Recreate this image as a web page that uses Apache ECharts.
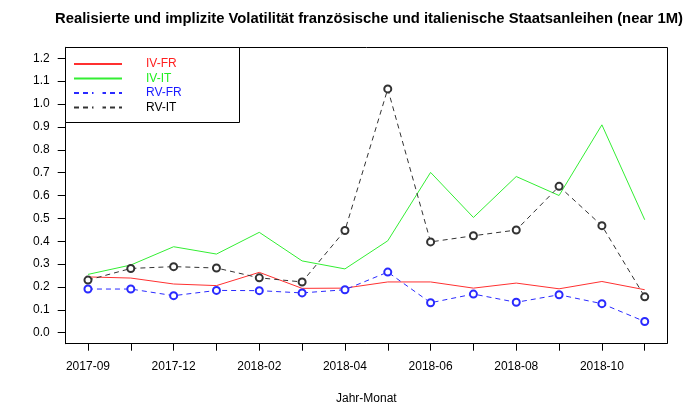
<!DOCTYPE html>
<html>
<head>
<meta charset="utf-8">
<script src="https://cdn.jsdelivr.net/npm/echarts@6/dist/echarts.min.js"></script>
<style>
html,body{margin:0;padding:0;background:#fff;}
#c{width:697px;height:405px;}
</style>
</head>
<body>
<div id="c"></div>
<script>
const months = ['2017-09','2017-10','2017-12','2018-01','2018-02','2018-03','2018-04','2018-05','2018-06','2018-07','2018-08','2018-09','2018-10','2018-11'];
const ivFR = [0.244,0.239,0.213,0.206,0.264,0.194,0.195,0.222,0.222,0.195,0.217,0.192,0.224,0.188];
const ivIT = [0.255,0.296,0.376,0.344,0.439,0.314,0.279,0.402,0.701,0.504,0.683,0.600,0.909,0.494];
const rvFR = [0.191,0.191,0.162,0.185,0.184,0.174,0.188,0.265,0.131,0.169,0.133,0.166,0.127,0.049];
const rvIT = [0.230,0.281,0.289,0.283,0.240,0.222,0.447,1.066,0.397,0.424,0.449,0.640,0.468,0.157];
const seriesNames = ['IV-FR','IV-IT','RV-FR','RV-IT'];
const yTicks = [0,0.1,0.2,0.3,0.4,0.5,0.6,0.7,0.8,0.9,1.0,1.1,1.2];
const xLabelIdx = [0,2,4,6,8,10,12];
const titleText = 'Realisierte und implizite Volatilität französische und italienische Staatsanleihen (near 1M)';
const xName = 'Jahr-Monat';
const yName = 'Annualisiert';

const FONT = 'Liberation Sans, Arial, Helvetica, sans-serif';
const chart = echarts.init(document.getElementById('c'), null, {renderer:'canvas'});
const colors = ['#ff3030','#33ee33','#2a2aff','#333333'];
const textColors = ['#ff2020','#22ee22','#1a1aff','#000000'];
const xTicks = months.map((m,i)=>i);

function mk(name, vals, i, dashed) {
  return {
    name, type:'line', data: vals.map((v,k)=>[k, v]),
    symbol: dashed ? 'emptyCircle' : 'none',
    symbolSize: 7,
    showSymbol: dashed,
    lineStyle:{color:colors[i], width:1, type: dashed ? [5,4] : 'solid'},
    itemStyle:{color:colors[i], borderColor:colors[i], borderWidth:0.75},
    emphasis:{disabled:true},
    animation:false,
    z: 3
  };
}

chart.setOption({
  animation:false,
  textStyle:{fontFamily:FONT},
  grid:{left:65.7, right:697-667, top:47.3, bottom:405-343.7, containLabel:false, outerBoundsMode:'none'},
  legend:{
    orient:'vertical', left:68, top:53, itemWidth:48, itemHeight:9, itemGap:2.5,
    selectedMode:false, z:10,
    textStyle:{fontFamily:FONT, fontSize:12, padding:[0,0,0,19]},
    data: seriesNames.map((n,i)=>({
      name:n,
      textStyle:{color:textColors[i]},
      itemStyle: i < 2 ? {opacity:0} : {color:'#fff', borderColor:colors[i], borderWidth:0.75}
    }))
  },
  xAxis:{
    type:'value', min:-0.52, max:13.52,
    axisLine:{show:true, onZero:false, lineStyle:{color:'#000', width:1}},
    axisTick:{show:true, customValues:xTicks, length:7, lineStyle:{color:'#000'}},
    axisLabel:{customValues:xLabelIdx, color:'#000', fontSize:12, margin:17, fontFamily:FONT,
               formatter:v=>months[Math.round(v)]},
    splitLine:{show:false},
    name:xName, nameLocation:'middle', nameGap:49,
    nameTextStyle:{color:'#000', fontSize:12, fontFamily:FONT}
  },
  yAxis:{
    type:'value', min:-0.048, max:1.248,
    axisLine:{show:true, onZero:false, lineStyle:{color:'#000', width:1}},
    axisTick:{show:true, customValues:yTicks, length:8, lineStyle:{color:'#000'}},
    axisLabel:{customValues:yTicks, color:'#000', fontSize:12, margin:16, fontFamily:FONT, formatter:v=>v.toFixed(1)},
    splitLine:{show:false},
    name:yName, nameLocation:'middle', nameGap:64, nameRotate:90,
    nameTextStyle:{color:'#000', fontSize:12, fontFamily:FONT}
  },
  series:[
    mk(seriesNames[0], ivFR, 0, false),
    mk(seriesNames[1], ivIT, 1, false),
    mk(seriesNames[2], rvFR, 2, true),
    mk(seriesNames[3], rvIT, 3, true)
  ],
  graphic:[
    {type:'rect', shape:{x:65.5, y:47.5, width:602, height:296}, style:{fill:null, stroke:'#000', lineWidth:1}, z:1, silent:true},
    {type:'rect', shape:{x:65.5, y:47.5, width:174, height:75}, style:{fill:'#fff', stroke:'#000', lineWidth:1}, z:5, silent:true},
    {type:'text', x:369, y:19, style:{text:titleText, fontFamily:FONT, fontWeight:'bold', fontSize:14.8, fill:'#000', textAlign:'center', textVerticalAlign:'middle'}, silent:true}
  ]
});
</script>
</body>
</html>
